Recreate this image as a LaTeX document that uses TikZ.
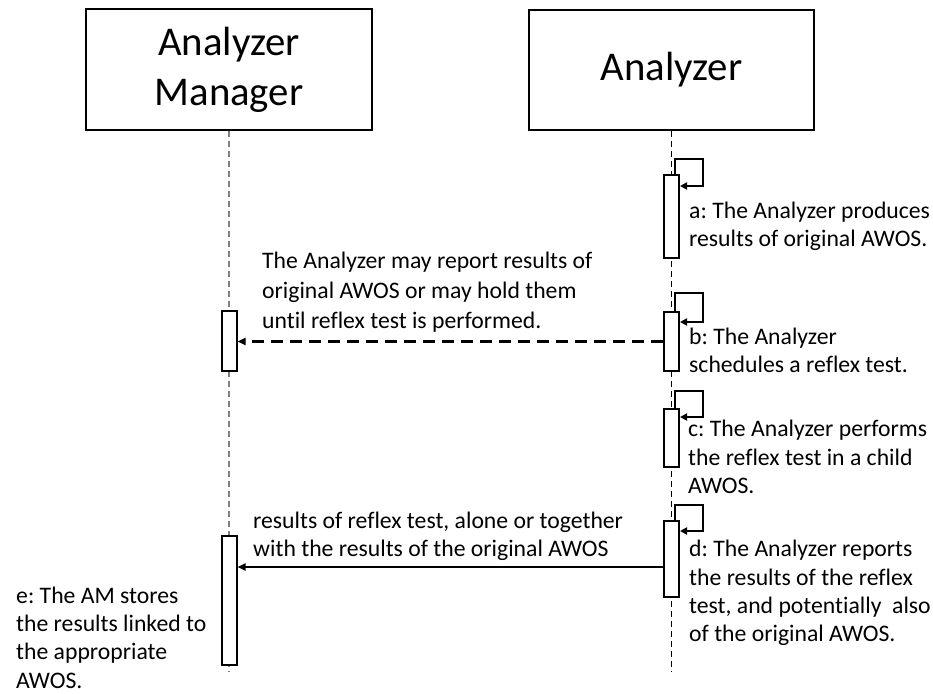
\documentclass[tikz,border=0pt]{standalone}
\usepackage{fontspec}
\setmainfont{Carlito}[Ligatures=NoCommon]
\usetikzlibrary{arrows.meta}
\frenchspacing
\begin{document}
\begin{tikzpicture}[x=1pt,y=-1pt,
  hdr/.style={draw,line width=2.5pt,align=center,inner sep=0,font=\fontsize{40.8}{50}\selectfont},
  bar/.style={draw,line width=2pt,fill=white,minimum width=15pt,inner sep=0},
  txt/.style={align=left,inner sep=0,anchor=west,font=\fontsize{23.7}{28.3}\selectfont},
  life/.style={dash pattern=on 6pt off 4pt,line width=1.2pt},
  msg/.style={line width=2.5pt,-{Triangle[length=8pt,width=7pt]}},
  selfl/.style={line width=2.5pt,-{Triangle[length=7pt,width=7pt]}}]
\useasboundingbox (0,0) rectangle (933,693);
% headers
\node[hdr,minimum width=286pt,minimum height=121pt] (am) at (229,69.5) {Analyzer\\Manager};
\node[hdr,minimum width=285pt,minimum height=120pt] (an) at (671.5,70) {Analyzer};
\coordinate (amend) at (229,672);
\coordinate (anend) at (671.5,672);
\draw[life,gray] (am.south) -- (amend);
\draw[life] (an.south) -- (anend);
% activation bars on Analyzer
\node[bar,minimum height=83pt] (ba) at (671.5,216.5) {};
\node[bar,minimum height=59pt] (bb) at (671.5,341.5) {};
\node[bar,minimum height=58pt] (bc) at (671.5,438) {};
\node[bar,minimum height=76pt] (bd) at (671.5,559) {};
% activation bars on Analyzer Manager
\node[bar,minimum height=60pt] (lb1) at (229,341) {};
\node[bar,minimum height=129pt] (lb2) at (229,600.5) {};
% self loops
\draw[selfl] ([xshift=3.5pt]ba.north) |- ++(28,-15) |- ([yshift=-12pt]ba.north east);
\draw[selfl] ([xshift=3.5pt]bb.north) |- ++(28,-18) |- ([yshift=-11pt]bb.north east);
\draw[selfl] ([xshift=3.5pt]bc.north) |- ++(28,-17) |- ([yshift=-9pt]bc.north east);
\draw[selfl] ([xshift=3.5pt]bd.north) |- ++(28,-15) |- ([yshift=-11pt]bd.north east);
% messages
\draw[msg,dash pattern=on 12pt off 7pt] (bb.west) -- (bb.west -| lb1.east);
\coordinate (m2) at ([yshift=-8pt]bd.west);
\draw[msg] (m2) -- (m2 -| lb2.east);
% texts
\node[txt,font=\fontsize{23.7}{30}\selectfont] (t1) at (262,292) {The Analyzer may report results of\\original AWOS or may hold them\\until reflex test is performed.};
\node[txt] (t2) at (253,536) {results of reflex test, alone or together\\with the results of the original AWOS};
\node[txt] (ta) at (689,226.5) {a: The Analyzer produces\\results of original AWOS.};
\node[txt] (tb) at (689,350.5) {b: The Analyzer\\schedules a reflex test.};
\node[txt] (tc) at (688,457) {c: The Analyzer performs\\the reflex test in a child\\AWOS.};
\node[txt] (td) at (689,593) {d: The Analyzer reports\\the results of the reflex\\test, and potentially\ \ also\\of the original AWOS.};
\node[txt] (te) at (16,637.5) {e: The AM stores\\the results linked to\\the appropriate\\AWOS.};
\end{tikzpicture}
\end{document}
